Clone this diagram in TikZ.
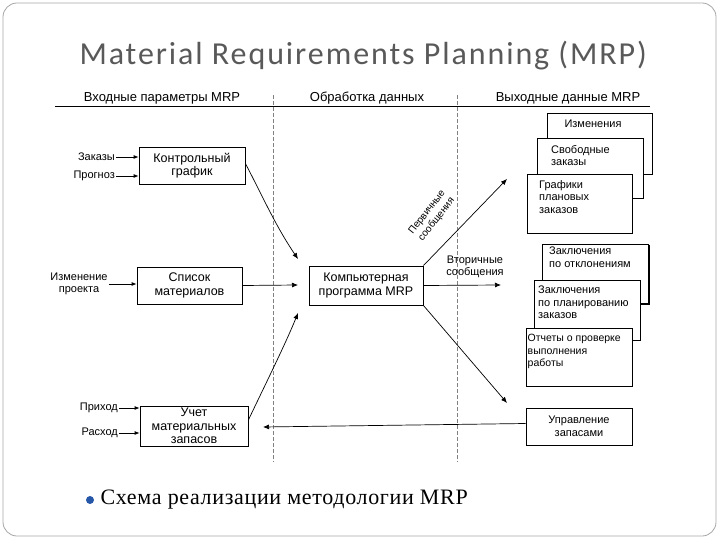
\documentclass[tikz,border=0pt]{standalone}
\usepackage{fontspec}
\setmainfont{Liberation Sans}
\newfontfamily\titlefont[LetterSpace=6]{Carlito}
\newfontfamily\serfont[LetterSpace=3]{Liberation Serif}
\usetikzlibrary{arrows.meta}
\begin{document}
\begin{tikzpicture}[x=1pt,y=-1pt,
  box/.style={draw,fill=white,line width=0.8pt,inner sep=0pt,font=\fontsize{12.5}{13.5}\selectfont,align=center},
  obox/.style={draw,fill=white,line width=0.8pt,inner sep=0pt},
  otx/.style={font=\fontsize{11}{12.5}\selectfont,anchor=north west,align=left,inner sep=0pt},
  lbl/.style={font=\fontsize{11}{12}\selectfont,inner sep=1pt},
  hd/.style={font=\fontsize{13}{14}\selectfont},
  arr/.style={-{Latex[length=6pt,width=5pt]},line width=0.7pt},
  sarr/.style={-{Latex[length=5pt,width=4pt]},line width=0.8pt},
  dv/.style={dash pattern=on 4pt off 2pt,line width=0.5pt,gray}]
\useasboundingbox (0,0) rectangle (720,540);
\draw[gray!70,rounded corners=14pt,line width=0.8pt] (3,3) rectangle (716,536);
\node[font=\titlefont\fontsize{32}{34}\selectfont,text=black!65,anchor=west] (title) at (76,56) {Material Requirements Planning (MRP)};
% headers
\draw[line width=0.6pt] (55,106) -- (650,106);
\node[hd] (h1) at (162,98) {Входные параметры MRP};
\node[hd] (h2) at (367,98) {Обработка данных};
\node[hd] (h3) at (568,98) {Выходные данные MRP};
\draw[dv] (273,95) -- (273,462);
\draw[dv] (457,95) -- (457,462);
% left boxes
\node[box,minimum width=106pt,minimum height=37pt] (kg) at (192,165.5) {Контрольный\\график};
\node[box,minimum width=105pt,minimum height=37pt] (sm) at (189.5,285.5) {Список\\материалов};
\node[box,minimum width=108pt,minimum height=40pt] (uz) at (194,426) {Учет\\материальных\\запасов};
\node[box,minimum width=114pt,minimum height=39pt] (mrp) at (366,285.5) {Компьютерная\\программа MRP};
% left labels
\node[lbl,anchor=east] (z1) at (116,157) {Заказы};
\node[lbl,anchor=east] (z2) at (116,176) {Прогноз};
\node[lbl,align=center] (z3) at (79,284) {Изменение\\проекта};
\node[lbl,anchor=east] (z4) at (119,408) {Приход};
\node[lbl,anchor=east] (z5) at (119,433) {Расход};
\coordinate (k1) at (kg.west|-z1); \coordinate (k2) at (kg.west|-z2);
\coordinate (s1) at (sm.west|-z3);
\coordinate (u1) at (uz.west|-z4); \coordinate (u2) at (uz.west|-z5);
\draw[sarr] (z1) -- (k1);
\draw[sarr] (z2) -- (k2);
\draw[sarr] (z3) -- (s1);
\draw[sarr] (z4) -- (u1);
\draw[sarr] (z5) -- (u2);
% to mrp
\coordinate (t1) at (298,259); \coordinate (t2) at (298,285); \coordinate (t3) at (298,313);
\draw[arr] (kg.east) ++(0,-2) coordinate (ka) (ka) .. controls (262,195) and (275,225) .. (t1);
\draw[arr] (sm.east) -- (t2);
\draw[arr] (uz.east) ++(0,-6) coordinate (ua) (ua) .. controls (265,385) and (285,345) .. (t3);
% right boxes
\node[obox,minimum width=105pt,minimum height=61pt] (r1) at (599.5,143.5) {};
\node[otx,anchor=north] at (593,120) {Изменения};
\node[obox,minimum width=106pt,minimum height=60pt] (r2) at (590,168) {};
\node[otx] at (551,145) {Свободные\\заказы};
\node[obox,minimum width=105pt,minimum height=59pt] (r3) at (579.5,203.5) {};
\node[otx] at (539,180) {Графики\\плановых\\заказов};
\draw[line width=2pt] (649,245) -- (649,304) -- (543,304);
\node[obox,minimum width=106pt,minimum height=59pt] (r4) at (595,273.5) {};
\node[otx] at (549,247) {Заключения\\по отклонениям};
\node[obox,minimum width=106pt,minimum height=60pt] (r5) at (587,310) {};
\node[otx] at (538,286) {Заключения\\по планированию\\заказов};
\node[obox,minimum width=106pt,minimum height=58pt] (r6) at (579,357) {};
\node[otx,font=\fontsize{10.5}{12.5}\selectfont] at (527.5,334) {Отчеты о проверке\\выполнения\\работы};
\node[box,font=\fontsize{11}{12.5}\selectfont,minimum width=106pt,minimum height=37pt] (r7) at (579,426.5) {Управление\\запасами};
% from mrp
\coordinate (o1) at (507,179); \coordinate (o2) at (501,285); \coordinate (o3) at (507,403); \coordinate (o4) at (263,427);
\draw[arr] (mrp.north east) -- (o1);
\draw[arr] (mrp.east) -- (o2);
\draw[arr] (mrp.south east) -- (o3);
\draw[arr] (r7.west) ++(0,-3) coordinate (ra) (ra) -- (o4);
\node[align=center,rotate=52,font=\fontsize{10}{12}\selectfont,inner sep=0pt] (pm) at (432,216) {Первичные\\сообщения};
\node[lbl,align=center,font=\fontsize{11}{12}\selectfont] (vm) at (475,267) {Вторичные\\сообщения};
% bottom
\fill[teal!55!blue!70!gray] (90,500) circle (4pt);
\node[font=\serfont\fontsize{22}{24}\selectfont,anchor=west] (cap) at (97,500) {Схема реализации методологии MRP};
\end{tikzpicture}
\end{document}
